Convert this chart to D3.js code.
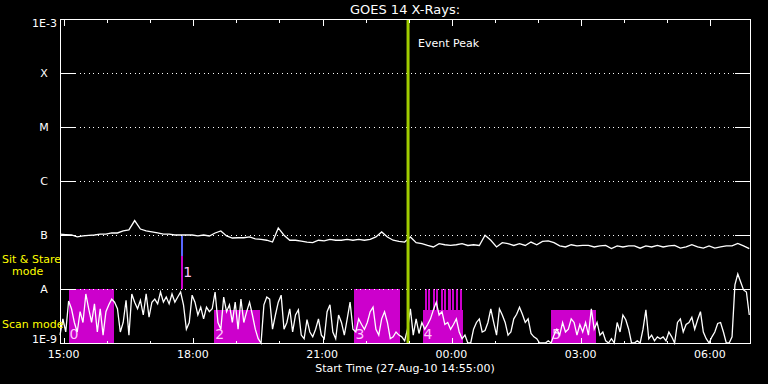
<!DOCTYPE html>
<html><head><meta charset="utf-8">
<script src="https://cdn.jsdelivr.net/npm/d3@7"></script>
<style>
body{margin:0;background:#000;}
svg{display:block;}
text{font-family:"DejaVu Sans",sans-serif;}
</style>
</head><body>
<svg id="chart" width="768" height="384"></svg>
<script>
// ---------------- data ----------------
const startTime = "2010-08-27T14:55:00Z";
const endTime   = "2010-08-28T06:56:00Z";
const eventPeakTime = "2010-08-27T22:59:45Z";

// GOES 14 short channel (0.5-4 A), one sample every 4 min from start, units of 1e-9 W/m^2
const shortStepMin = 4;
const shortFlux = [
 1.4, 2.8, 1.6, 6.0, 4.3, 2.4, 1.6, 3.8, 2.4, 8.1,
 4.3, 2.4, 5.3, 1.6, 4.3, 1.4, 3.8, 5.1, 6.5, 5.7,
 4.3, 1.6, 2.4, 6.2, 1.4, 8.1, 5.7, 4.3, 6.2, 3.3,
 8.1, 3.0, 5.7, 6.5, 5.3, 8.8, 5.7, 7.1, 5.3, 8.1,
 5.7, 7.1, 8.8, 5.1, 1.8, 2.4, 7.7, 5.7, 3.3, 4.6,
 2.8, 4.6, 3.8, 4.3, 8.8, 2.4, 1.8, 7.1, 3.8, 5.1,
 2.4, 5.7, 1.8, 6.5, 2.4, 3.8, 5.7, 3.3, 1.8, 1.2,
 1.0, 5.1, 7.1, 6.5, 1.8, 3.3, 5.7, 7.7, 1.8, 2.4,
 4.3, 1.6, 3.3, 4.1, 1.4, 1.2, 2.7, 1.6, 1.3, 1.8,
 2.8, 1.4, 1.2, 3.8, 5.1, 1.6, 1.2, 3.3, 2.4, 1.4,
 2.8, 5.7, 1.8, 1.6, 2.8, 2.2, 1.8, 2.4, 3.8, 4.6,
 1.8, 1.4, 2.8, 3.8, 2.4, 1.2, 1.3, 1.6, 1.4, 1.3,
 1.1, 1.8, 4.3, 1.4, 2.8, 1.5, 2.4, 1.8, 2.2, 2.8,
 4.1, 5.7, 3.3, 3.8, 2.2, 2.4, 1.8, 2.2, 2.8, 1.6,
 1.2, 1.4, 0.9, 0.9, 1.8, 2.4, 2.8, 1.6, 1.7, 2.4,
 4.3, 2.4, 1.4, 4.3, 3.3, 2.4, 1.4, 1.6, 2.8, 3.4,
 4.6, 3.4, 2.4, 2.8, 1.5, 1.3, 1.2, 0.9, 0.9, 1.0,
 1.1, 0.9, 1.4, 1.8, 1.4, 2.4, 1.6, 1.8, 2.8, 2.4,
 1.4, 2.2, 1.6, 2.4, 1.4, 4.3, 1.8, 2.4, 1.4, 1.6,
 1.1, 0.9, 1.2, 0.9, 2.4, 1.6, 3.3, 2.7, 1.8, 0.9,
 1.0, 1.1, 1.0, 1.8, 4.1, 1.2, 1.4, 1.1, 1.3, 1.2,
 1.3, 1.1, 1.6, 1.3, 0.9, 2.4, 2.8, 1.6, 2.2, 2.4,
 3.0, 1.8, 2.7, 3.8, 1.6, 1.2, 1.0, 1.3, 1.6, 2.3,
 2.4, 1.6, 0.9, 0.9, 1.3, 11.9, 19.0, 13.5, 9.6, 8.8, 3.3
];
const shortUnit = 1e-9;

// GOES 14 long channel (1-8 A), one sample every 8 min from start, units of 1e-8 W/m^2
const longStepMin = 8;
const longFlux = [
 10.4, 10.2, 10.0, 9.2, 9.6, 9.8, 10.0, 10.4, 10.4, 10.9,
 10.9, 11.9, 12.4, 18.5, 12.9, 11.9, 11.4, 10.9, 10.4, 10.4,
 10.0, 10.0, 10.0, 10.0, 9.6, 10.0, 9.6, 10.9, 11.9, 9.6,
 8.8, 8.9, 8.9, 9.2, 8.5, 8.3, 8.0, 7.4, 13.5, 9.9,
 8.0, 8.0, 7.7, 7.4, 7.2, 8.0, 7.8, 8.3, 8.0, 8.0,
 8.3, 8.0, 8.3, 8.0, 8.3, 9.2, 11.4, 9.2, 8.0, 7.6,
 7.4, 9.2, 7.2, 6.9, 6.4, 6.0, 6.9, 6.6, 6.4, 6.6,
 6.9, 6.4, 6.6, 6.4, 9.9, 8.0, 6.0, 7.2, 6.9, 6.4,
 6.9, 6.4, 7.4, 6.6, 7.6, 7.8, 7.2, 6.3, 6.0, 6.6,
 6.3, 6.4, 6.4, 6.0, 6.3, 6.4, 5.6, 6.3, 6.0, 6.3,
 6.3, 5.7, 6.3, 6.0, 6.4, 6.0, 6.3, 6.4, 5.7, 6.0,
 6.6, 6.0, 5.7, 6.3, 5.7, 6.0, 6.3, 6.3, 7.0, 6.3, 5.6
];
const longUnit = 1e-8;

// flare class levels
const classLevels = [1e-4, 1e-5, 1e-6, 1e-7, 1e-8];
const classLabels = ["X", "M", "C", "B", "A"];
const decadeLabels = ["1E-3", "1E-9"];

// scan-mode intervals (label, start, end, top flux)
const scanIds    = ["0", "2", "3", "4", "5"];
const scanStarts = ["2010-08-27T15:07Z","2010-08-27T18:30Z","2010-08-27T21:45Z","2010-08-27T23:20Z","2010-08-28T02:19Z"];
const scanEnds   = ["2010-08-27T16:10Z","2010-08-27T19:34Z","2010-08-27T22:48Z","2010-08-28T00:16Z","2010-08-28T03:22Z"];
const scanTops   = [1e-8, 4.1e-9, 1e-8, 4.1e-9, 4.1e-9];

// short repeated pointings inside scan 4
const stripeStarts = ["2010-08-27T23:23Z","2010-08-27T23:28Z","2010-08-27T23:34Z","2010-08-27T23:39Z","2010-08-27T23:45Z",
                      "2010-08-27T23:50Z","2010-08-27T23:56Z","2010-08-28T00:01Z","2010-08-28T00:07Z","2010-08-28T00:12Z"];
const stripeMinutes = 3;
const stripeBottom = 4.1e-9, stripeTop = 1e-8;

// sit & stare pointing "1"
const sitId = "1";
const sitStart = "2010-08-27T17:43Z", sitEnd = "2010-08-27T17:46Z";
const sitLow = 1e-8, sitMid = 4.1e-8, sitHigh = 9.6e-8;

// axis tick labels
const tickLabels = ["15:00","18:00","21:00","00:00","03:00","06:00"];

// ---------------- drawing ----------------
const parse = d3.isoParse;
const svg = d3.select("#chart");
const L = 60, R = 750, T = 19, B = 343;
const MAG = "#cc00cc", GREEN = "#a0cc00", PINK = "#ffc8ff", BLUE = "#5866ff";

svg.append("rect").attr("width", 768).attr("height", 384).attr("fill", "#000");

const t0 = parse(startTime);
const x = d3.scaleUtc().domain([t0, parse(endTime)]).range([L, R]);
const y = d3.scaleLog().domain([1e-9, 1e-3]).range([B, T]).clamp(true);

const addMin = (d, m) => new Date(d.getTime() + m * 60000);

// scan-mode boxes
const boxes = scanIds.map((id, i) => ({id, s: parse(scanStarts[i]), e: parse(scanEnds[i]), top: scanTops[i]}));
svg.append("g").attr("shape-rendering", "crispEdges").selectAll("rect").data(boxes).join("rect")
  .attr("x", d => x(d.s)).attr("width", d => x(d.e) - x(d.s))
  .attr("y", d => y(d.top)).attr("height", d => y(1e-9) - y(d.top))
  .attr("fill", MAG);

svg.append("g").attr("shape-rendering", "crispEdges").selectAll("rect").data(stripeStarts.map(parse)).join("rect")
  .attr("x", d => x(d)).attr("width", d => x(addMin(d, stripeMinutes)) - x(d))
  .attr("y", y(stripeTop)).attr("height", y(stripeBottom) - y(stripeTop))
  .attr("fill", MAG);

// sit & stare bar
const ss = parse(sitStart), se = parse(sitEnd);
const sx = Math.round(x(ss)), sw = Math.max(2, Math.round(x(se) - x(ss)));
svg.append("rect").attr("shape-rendering", "crispEdges").attr("x", sx).attr("width", sw)
  .attr("y", y(sitMid)).attr("height", y(sitLow) - y(sitMid)).attr("fill", MAG);
svg.append("rect").attr("shape-rendering", "crispEdges").attr("x", sx).attr("width", sw)
  .attr("y", y(sitHigh)).attr("height", y(sitMid) - y(sitHigh)).attr("fill", BLUE);

// box labels
svg.append("g").selectAll("text").data(boxes).join("text")
  .attr("x", d => x(d.s) + 1).attr("y", 339)
  .attr("fill", PINK).attr("font-size", 14).text(d => d.id);
svg.append("text").attr("x", x(se) + 0.5).attr("y", 277)
  .attr("fill", PINK).attr("font-size", 14).text(sitId);

// class grid lines
const grid = svg.append("g").attr("shape-rendering", "crispEdges");
classLevels.forEach(v => {
  const yy = Math.round(y(v)) + 0.5;
  grid.append("line").attr("x1", L + 15).attr("x2", R - 15).attr("y1", yy).attr("y2", yy)
    .attr("stroke", "#fff").attr("stroke-dasharray", "1,3.6");
  grid.append("line").attr("x1", L).attr("x2", L + 15).attr("y1", yy).attr("y2", yy).attr("stroke", "#fff");
  grid.append("line").attr("x1", R - 15).attr("x2", R).attr("y1", yy).attr("y2", yy).attr("stroke", "#fff");
});

// data lines
const shortData = shortFlux.map((v, i) => ({t: addMin(t0, i * shortStepMin), v: v * shortUnit}));
const longData  = longFlux.map((v, i) => ({t: addMin(t0, i * longStepMin), v: v * longUnit}));
const line = d3.line().x(d => x(d.t)).y(d => y(d.v));
svg.append("path").datum(longData).attr("d", line).attr("fill", "none").attr("stroke", "#fff").attr("stroke-width", 1.3);
svg.append("path").datum(shortData).attr("d", line).attr("fill", "none").attr("stroke", "#fff").attr("stroke-width", 1.3);

// event peak line
const ep = parse(eventPeakTime);
svg.append("line").attr("x1", x(ep)).attr("x2", x(ep)).attr("y1", T).attr("y2", B)
  .attr("stroke", GREEN).attr("stroke-width", 3);
svg.append("text").attr("x", x(ep) + 10).attr("y", 47).attr("fill", "#fff").attr("font-size", 11).text("Event Peak");

// frame
svg.append("rect").attr("shape-rendering", "crispEdges").attr("x", L + 0.5).attr("y", T + 0.5).attr("width", R - L).attr("height", B - T)
  .attr("fill", "none").attr("stroke", "#fff");

// hour ticks
const hours = d3.utcHour.range(parse("2010-08-27T15:00Z"), parse(endTime));
const majors = hours.filter(h => h.getUTCHours() % 3 === 0);
const minors = hours.filter(h => h.getUTCHours() % 3 !== 0);
const fmt = d3.utcFormat("%H:%M");

function tickAxis(gen, vals, size, ypos) {
  const g = svg.append("g").attr("transform", `translate(0.5,${ypos})`).attr("shape-rendering", "crispEdges")
    .call(gen(x).tickValues(vals).tickSize(size).tickFormat(""));
  g.select(".domain").remove();
  g.selectAll("line").attr("stroke", "#fff");
  return g;
}
tickAxis(d3.axisTop, minors, -3, T + 0.5);
tickAxis(d3.axisTop, majors, -6, T + 0.5);
tickAxis(d3.axisBottom, minors, -3, B + 0.5);
tickAxis(d3.axisBottom, majors, -6, B + 0.5);

svg.append("g").selectAll("text").data(majors).join("text")
  .attr("x", d => x(d)).attr("y", 358).attr("text-anchor", "middle")
  .attr("fill", "#fff").attr("font-size", 11)
  .text((d, i) => tickLabels[i] || fmt(d));

// y labels
svg.append("g").selectAll("text").data(classLevels).join("text")
  .attr("x", 44).attr("y", d => y(d)).attr("dy", "0.36em").attr("text-anchor", "middle")
  .attr("fill", "#fff").attr("font-size", 11).text((d, i) => classLabels[i]);
svg.append("text").attr("x", 57).attr("y", y(1e-3) + 8).attr("text-anchor", "end")
  .attr("fill", "#fff").attr("font-size", 11).text(decadeLabels[0]);
svg.append("text").attr("x", 57).attr("y", y(1e-9)).attr("text-anchor", "end")
  .attr("fill", "#fff").attr("font-size", 11).text(decadeLabels[1]);

// mode labels
svg.append("text").attr("x", 2).attr("y", 263).attr("fill", "#ffff00").attr("font-size", 11).text("Sit & Stare");
svg.append("text").attr("x", 12).attr("y", 275).attr("fill", "#ffff00").attr("font-size", 11).text("mode");
svg.append("text").attr("x", 2).attr("y", 328).attr("fill", "#ffff00").attr("font-size", 11).text("Scan mode");

// titles
svg.append("text").attr("x", (L + R) / 2).attr("y", 14).attr("text-anchor", "middle")
  .attr("fill", "#fff").attr("font-size", 13).text("GOES 14 X-Rays:");
svg.append("text").attr("x", (L + R) / 2).attr("y", 372).attr("text-anchor", "middle")
  .attr("fill", "#fff").attr("font-size", 11).text("Start Time (27-Aug-10 14:55:00)");
</script>
</body></html>
